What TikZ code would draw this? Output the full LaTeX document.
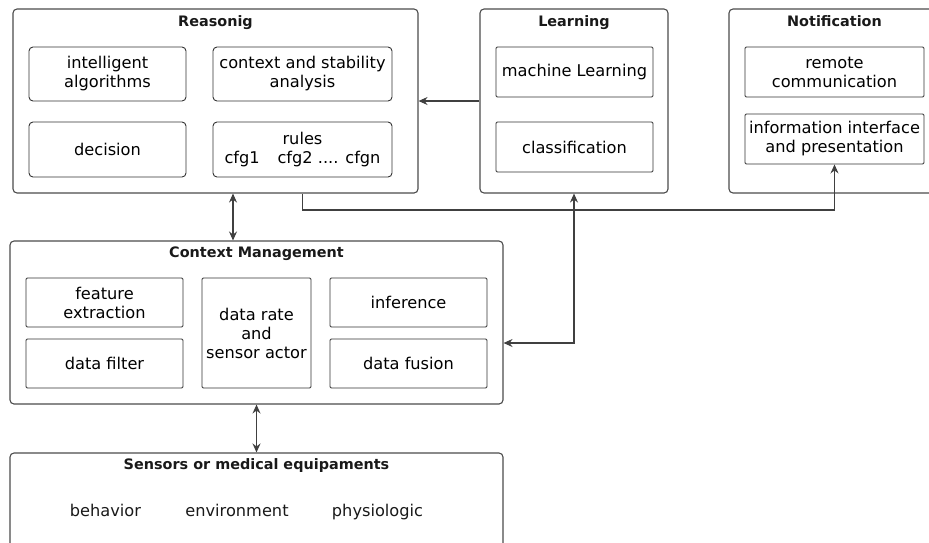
\documentclass[tikz,border=0pt]{standalone}
\usepackage{fontspec}
\setmainfont{DejaVu Sans}
\usetikzlibrary{arrows.meta}
\begin{document}
\begin{tikzpicture}[x=1pt,y=-1pt,
  outerbox/.style={draw=black!70, line width=1.1pt, rounded corners=4pt, inner sep=0pt},
  roundbox/.style={draw=black!80, line width=0.9pt, rounded corners=4pt, align=center, inner sep=0pt,
    font=\fontsize{16.2}{19}\selectfont},
  sharpbox/.style={draw=black!80, line width=0.9pt, rounded corners=1.2pt, align=center, inner sep=0pt,
    font=\fontsize{16.2}{19}\selectfont},
  title/.style={font=\fontsize{14.4}{17}\selectfont\bfseries, text=black!90, inner sep=0pt, anchor=base},
  plain/.style={font=\fontsize{16.2}{19}\selectfont, text=black!90, inner sep=0pt, anchor=base},
  link/.style={draw=black!75, line width=1.1pt},
  tip/.tip={Stealth[length=9pt,width=8pt,inset=3pt]},
  arr/.style={link, -tip},
  arrb/.style={link, tip-tip}
]
\useasboundingbox (0,0) rectangle (929,542);
\clip (0,0) rectangle (929,542);

% Reasoning block
\node[outerbox, minimum width=405pt, minimum height=184pt] (reason) at (215.5,101) {};
\node[title] (reasonT) at (215.5,26) {Reasonig};
\node[roundbox, minimum width=157pt, minimum height=54pt] (algo) at (107.5,74) {intelligent\\algorithms};
\node[roundbox, minimum width=179pt, minimum height=54pt] (stab) at (302.5,74) {context and stability\\analysis};
\node[roundbox, minimum width=157pt, minimum height=55pt] (decis) at (107.5,149.5) {decision};
\node[roundbox, minimum width=179pt, minimum height=55pt] (rules) at (302.5,149.5) {rules\\cfg1\hspace{1.1em}cfg2 .... cfgn};

% Learning block
\node[outerbox, minimum width=188pt, minimum height=184pt] (learn) at (574,101) {};
\node[title] (learnT) at (574,26) {Learning};
\node[sharpbox, minimum width=157pt, minimum height=50pt] (ml) at (574.5,72) {machine Learning};
\node[sharpbox, minimum width=157pt, minimum height=50pt] (clf) at (574.5,147) {classification};

% Notification block
\node[outerbox, minimum width=211pt, minimum height=184pt] (notif) at (834.5,101) {};
\node[title] (notifT) at (834.5,26) {Notification};
\node[sharpbox, minimum width=179pt, minimum height=50pt] (remote) at (834.5,72) {remote\\communication};
\node[sharpbox, minimum width=179pt, minimum height=50pt] (info) at (834.5,139) {information interface\\and presentation};

% Context management block
\node[outerbox, minimum width=493pt, minimum height=163pt] (ctx) at (256.5,322.5) {};
\node[title] (ctxT) at (256.5,257.5) {Context Management};
\node[sharpbox, minimum width=157pt, minimum height=49pt] (feat) at (104.5,302.5) {feature\\extraction};
\node[sharpbox, minimum width=157pt, minimum height=49pt] (filt) at (104.5,363.5) {data filter};
\node[sharpbox, minimum width=109pt, minimum height=110pt] (rate) at (256.5,333) {data rate\\and\\sensor actor};
\node[sharpbox, minimum width=157pt, minimum height=49pt] (infer) at (408.5,302.5) {inference};
\node[sharpbox, minimum width=157pt, minimum height=49pt] (fusion) at (408.5,363.5) {data fusion};

% Sensors block (runs past the lower edge)
\node[outerbox, minimum width=493pt, minimum height=120pt] (sens) at (256.5,513) {};
\node[title] (sensT) at (256.5,469) {Sensors or medical equipaments};
\node[plain] (behav) at (105.5,516) {behavior};
\node[plain] (envir) at (237,516) {environment};
\node[plain] (physio) at (377.5,516) {physiologic};

% Connectors
\coordinate (rcx) at (233,0);
\coordinate (bus) at (0,210);
\coordinate (cin) at (0,343);
\draw[arr] (learn.west) -- (reason.east);
\draw[arrb] (reason.south -| rcx) -- (ctx.north -| rcx);
\draw[arr] (reason.south -| rules.south) -- (rules.south |- bus) -| (info.south);
\draw[arrb] (learn.south) |- (ctx.east |- cin);
\draw[arrb] (ctx.south) -- (sens.north);
\end{tikzpicture}
\end{document}
